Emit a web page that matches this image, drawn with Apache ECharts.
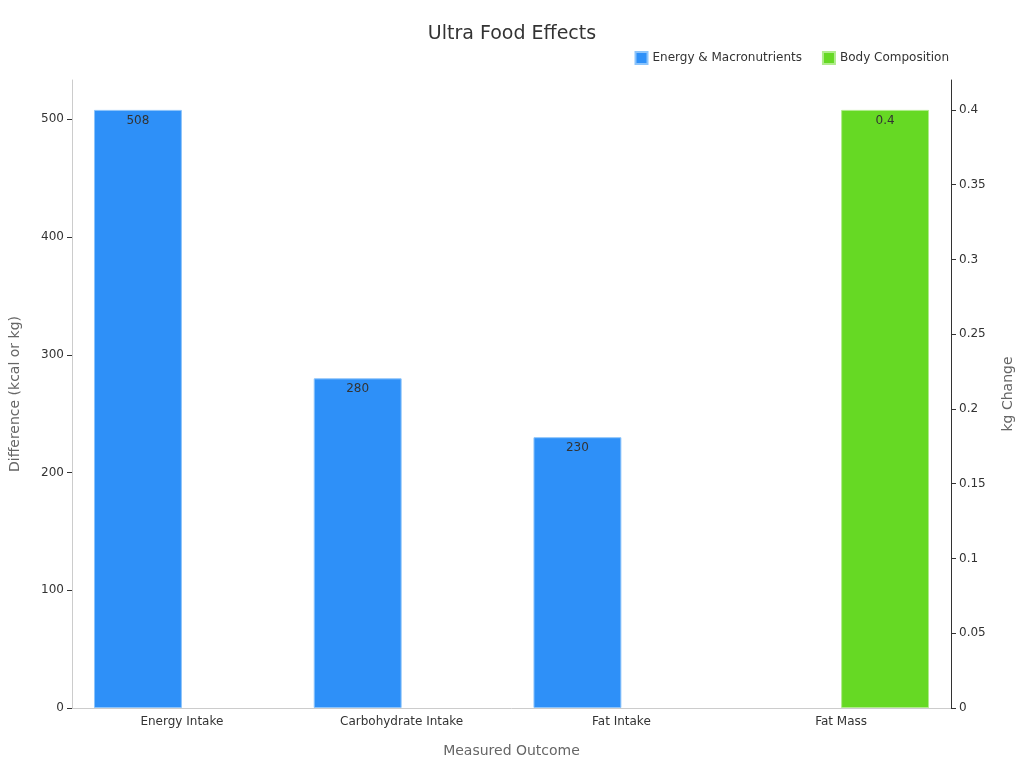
<!DOCTYPE html>
<html><head><meta charset="utf-8">
<script src="https://cdn.jsdelivr.net/npm/echarts@6/dist/echarts.min.js"></script>
<style>html,body{margin:0;padding:0;background:#fff}#c{width:1024px;height:768px}</style>
</head><body><div id="c"></div>
<script>
const categories = ['Energy Intake','Carbohydrate Intake','Fat Intake','Fat Mass'];
const energyMacro = [508, 280, 230, null];
const bodyComp = [null, null, null, 0.4];
const chart = echarts.init(document.getElementById('c'));
const font = 'DejaVu Sans';
chart.setOption({
  textStyle:{fontFamily:font},
  title:{text:'Ultra Food Effects',left:'center',top:20,textStyle:{fontFamily:font,fontSize:19,fontWeight:'normal',color:'#333'}},
  legend:{right:70,top:46,itemWidth:12,itemHeight:12,itemGap:20,icon:'rect',textStyle:{fontFamily:font,fontSize:12,color:'#333'},
    data:['Energy & Macronutrients','Body Composition']},
  grid:{left:68,right:73,top:80,bottom:60},
  xAxis:{type:'category',data:categories,name:'Measured Outcome',nameLocation:'middle',nameGap:36,
    nameTextStyle:{fontFamily:font,fontSize:14,color:'#666'},
    axisTick:{show:false},axisLine:{lineStyle:{color:'#ccc'}},axisLabel:{color:'#333',fontSize:12,fontFamily:font}},
  yAxis:[
    {type:'value',min:0,max:533.4,interval:100,name:'Difference (kcal or kg)',nameLocation:'middle',nameGap:50,
     nameTextStyle:{fontFamily:font,fontSize:14,color:'#666'},
     axisLine:{show:true,lineStyle:{color:'#ccc'}},axisTick:{show:true,lineStyle:{color:'#333'}},
     axisLabel:{color:'#333',fontSize:12,fontFamily:font,showMaxLabel:false},splitLine:{show:false}},
    {type:'value',min:0,max:0.42,interval:0.05,name:'kg Change',nameLocation:'middle',nameGap:50,
     nameTextStyle:{fontFamily:font,fontSize:14,color:'#666'},
     axisLine:{show:true,lineStyle:{color:'#333'}},axisTick:{show:true,lineStyle:{color:'#333'}},
     axisLabel:{color:'#333',fontSize:12,fontFamily:font,showMaxLabel:false},splitLine:{show:false}}
  ],
  series:[
    {name:'Energy & Macronutrients',type:'bar',yAxisIndex:0,data:energyMacro,barGap:'0%',barCategoryGap:'20%',
     itemStyle:{color:'#2e90f8',borderColor:'#8cc4fb',borderWidth:1},
     label:{show:true,position:'insideTop',color:'#333',fontSize:12,fontFamily:font}},
    {name:'Body Composition',type:'bar',yAxisIndex:1,data:bodyComp,
     itemStyle:{color:'#66d924',borderColor:'#b0ec8c',borderWidth:1},
     label:{show:true,position:'insideTop',color:'#333',fontSize:12,fontFamily:font}}
  ]
});
</script></body></html>
